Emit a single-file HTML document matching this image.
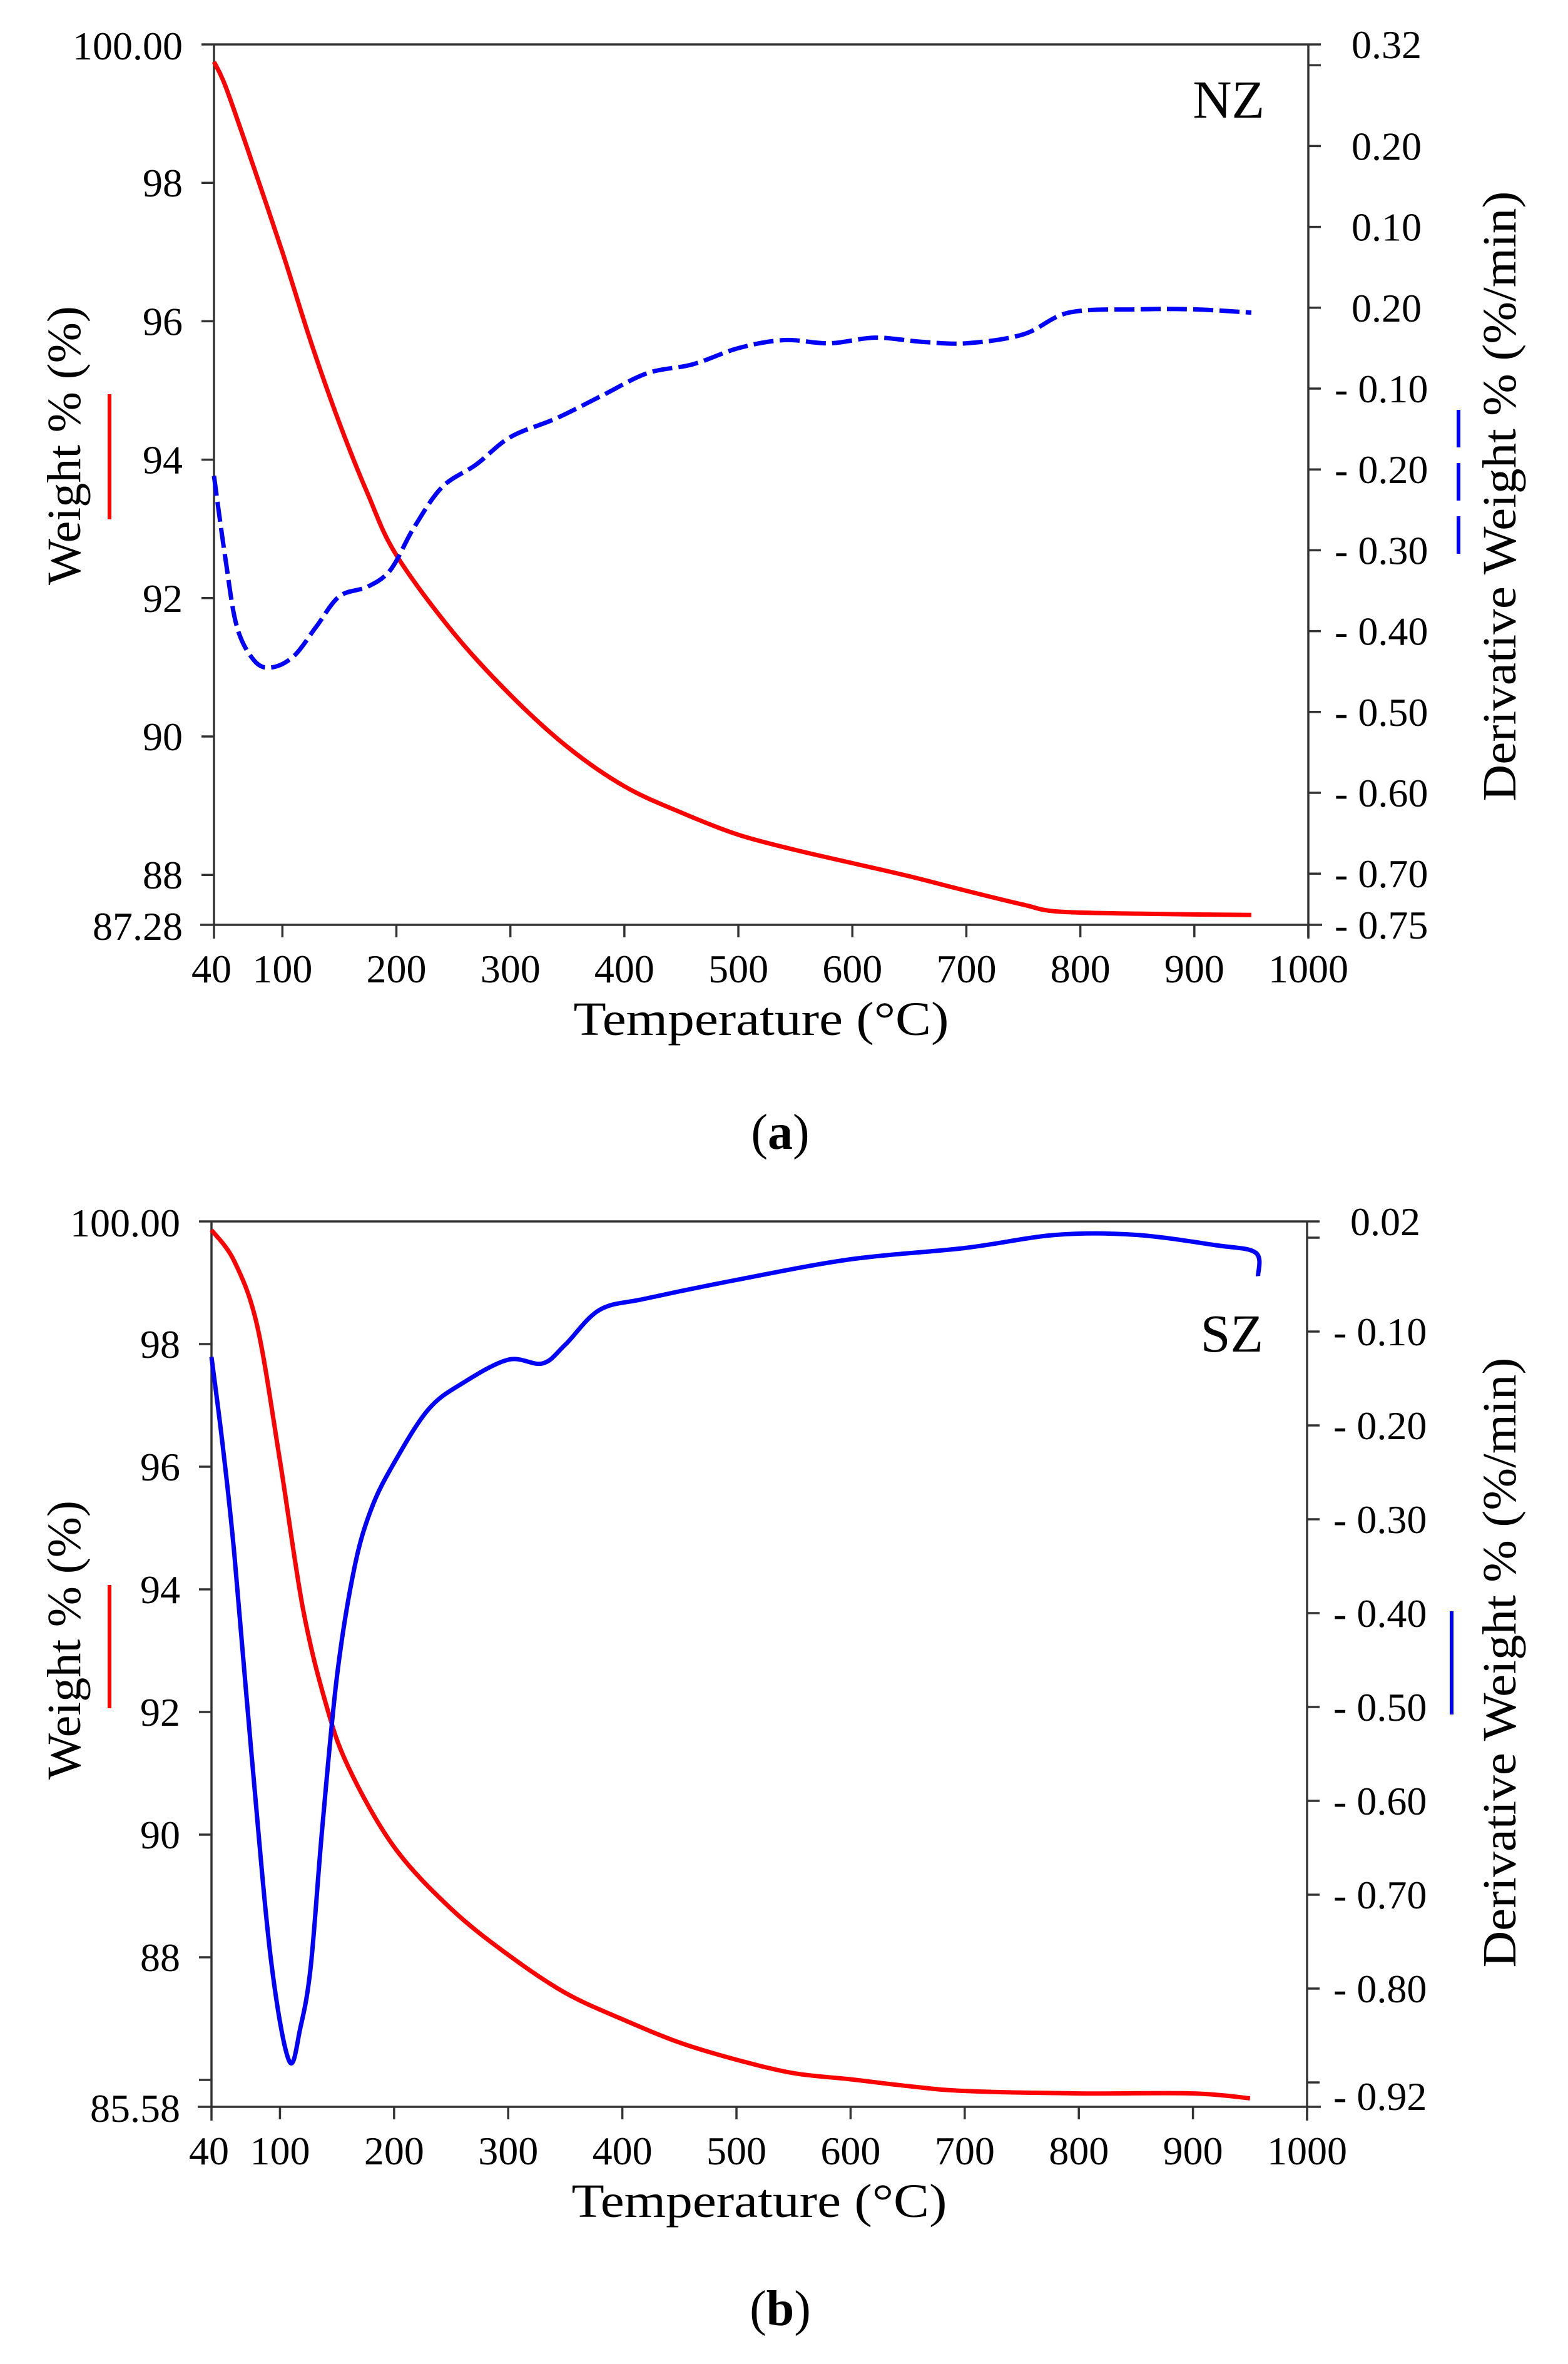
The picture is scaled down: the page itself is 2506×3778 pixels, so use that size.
<!DOCTYPE html>
<html><head><meta charset="utf-8"><style>
html,body{margin:0;padding:0;background:#fff}
svg{display:block}
text{font-family:"Liberation Serif",serif;fill:#000}
</style></head><body>
<svg id="fig" width="2506" height="3778" viewBox="0 0 2506 3778" xmlns="http://www.w3.org/2000/svg"></svg>
<script>
// ---------- Panel (a) NZ data ----------
const aTemps = [40,50,70,100,125,150,175,200,250,300,350,400,450,500,550,600,650,700,750,780,850,950];
const aWeight = [99.75,99.4,98.46,97.0,95.7,94.53,93.5,92.62,91.5,90.6,89.85,89.28,88.9,88.58,88.36,88.17,87.98,87.77,87.57,87.47,87.44,87.42];
const aDTemps = [40,50,60,75,90,110,130,150,175,195,215,240,270,300,340,380,420,460,500,540,580,620,660,700,750,790,850,900,950];
const aDeriv = [-0.208,-0.31,-0.394,-0.436,-0.445,-0.431,-0.394,-0.357,-0.345,-0.324,-0.273,-0.222,-0.194,-0.16,-0.137,-0.109,-0.081,-0.07,-0.05,-0.04,-0.044,-0.037,-0.042,-0.044,-0.033,-0.006,-0.002,-0.002,-0.006];
const aLeftTicks = [98,96,94,92,90,88];
const aRightTickVals = [0.3,0.2,0.1,0,-0.1,-0.2,-0.3,-0.4,-0.5,-0.6,-0.7];
const aRightTickLabels = ["","0.20","0.10","0.20","- 0.10","- 0.20","- 0.30","- 0.40","- 0.50","- 0.60","- 0.70"];
// ---------- Panel (b) SZ data ----------
const bTemps = [40,60,80,100,120,140,160,200,250,300,350,400,450,500,550,600,650,700,800,900,950];
const bWeight = [99.86,99.35,98.3,96.1,93.7,92.15,91.1,89.8,88.79,88.04,87.42,86.99,86.61,86.33,86.11,86.01,85.9,85.82,85.78,85.78,85.7];
const bDTemps = [40,50,60,75,92,108,118,127,137,150,165,180,200,230,260,300,330,350,380,420,500,600,700,780,850,920,955,957];
const bDeriv = [-0.127,-0.223,-0.337,-0.549,-0.768,-0.877,-0.841,-0.776,-0.63,-0.467,-0.353,-0.289,-0.24,-0.183,-0.155,-0.13,-0.134,-0.114,-0.077,-0.065,-0.045,-0.023,-0.011,0.003,0.003,-0.008,-0.016,-0.041];
const bLeftTicks = [98,96,94,92,90,88];
const bRightTickVals = [0,-0.1,-0.2,-0.3,-0.4,-0.5,-0.6,-0.7,-0.8,-0.9];
const bRightTickLabels = ["","- 0.10","- 0.20","- 0.30","- 0.40","- 0.50","- 0.60","- 0.70","- 0.80",""];
const xTicks = [100,200,300,400,500,600,700,800,900,1000];

const NS="http://www.w3.org/2000/svg";
const svg=document.getElementById('fig');
function mk(tag,attrs,parent){const e=document.createElementNS(NS,tag);for(const k in attrs)e.setAttribute(k,attrs[k]);(parent||svg).appendChild(e);return e;}
function txt(s,attrs,parent){const e=mk('text',attrs,parent);e.textContent=s;return e;}
function smooth(pts){
  let d='M'+pts[0][0].toFixed(1)+' '+pts[0][1].toFixed(1);
  for(let i=0;i<pts.length-1;i++){
    const p0=pts[Math.max(0,i-1)],p1=pts[i],p2=pts[i+1],p3=pts[Math.min(pts.length-1,i+2)];
    const c1=[p1[0]+(p2[0]-p0[0])/6,p1[1]+(p2[1]-p0[1])/6];
    const c2=[p2[0]-(p3[0]-p1[0])/6,p2[1]-(p3[1]-p1[1])/6];
    d+=` C${c1[0].toFixed(1)} ${c1[1].toFixed(1)} ${c2[0].toFixed(1)} ${c2[1].toFixed(1)} ${p2[0].toFixed(1)} ${p2[1].toFixed(1)}`;
  }
  return d;
}

function panel(c){
  const g=mk('g',{});
  
  
  const X=t=>c.L+(t-40)*(c.R-c.L)/960;
  const Y=w=>c.T+(100-w)*c.wpx;
  const D=v=>c.d0y-(v-(-0.1))*c.dpx;
  const ax=mk('path',{d:`M${c.L-20} ${c.T}H${c.R+20}M${c.L} ${c.T}V${c.B+22}M${c.L-22} ${c.B}H${c.R+22}M${c.R} ${c.T}V${c.B+22}`,stroke:'#333','stroke-width':3.5,fill:'none'},g);
  
  
  c.lt.forEach(v=>{
    const y=Y(v);
    const t=mk('line',{x1:c.L-20,x2:c.L,y1:y,y2:y,stroke:'#333','stroke-width':3.5},g);
    
    
    const l=txt(String(v),{x:c.L-50,y:y+22,'font-size':64,'text-anchor':'end'},g);
    
    
  });
  if(c.extraTick){
    const y=Y(c.extraTick);
    const t=mk('line',{x1:c.L-20,x2:c.L,y1:y,y2:y,stroke:'#333','stroke-width':3.5},g);
    
    
  }
  let l1=txt('100.00',{x:c.L-50,y:c.T+24,'font-size':64,'text-anchor':'end'},g);
  
  
  let l2=txt(c.minLabel,{x:c.L-50,y:c.B+24,'font-size':64,'text-anchor':'end'},g);
  
  
  c.rv.forEach((v,i)=>{
    const y=D(v);
    const t=mk('line',{x1:c.R,x2:c.R+20,y1:y,y2:y,stroke:'#333','stroke-width':3.5},g);
    
    
    const s=c.rl[i];
    if(s){
      const l=txt(s,{x:s[0]==='-'?c.R+42:c.R+69,y:y+22,'font-size':64},g);
      
      
    }
  });
  let r1=txt(c.rTop,{x:c.R+69,y:c.T+22,'font-size':64},g);
  
  
  let r2=txt(c.rBot,{x:c.R+42,y:c.rBotY,'font-size':64},g);
  
  
  xTicks.forEach(t=>{
    const x=X(t);
    const tk=mk('line',{x1:x,x2:x,y1:c.B,y2:c.B+20,stroke:'#333','stroke-width':3.5},g);
    
    
    const l=txt(String(t),{x:x,y:c.B+92,'font-size':64,'text-anchor':'middle'},g);
    
    
  });
  let l40=txt('40',{x:c.L-4,y:c.B+92,'font-size':64,'text-anchor':'middle'},g);
  
  
  let xt=txt('Temperature (°C)',{x:(c.L+c.R)/2,y:c.B+176,'font-size':76,'text-anchor':'middle',textLength:600,lengthAdjust:'spacingAndGlyphs'},g);
  
  
  let yt=txt('Weight % (%)',{x:0,y:0,'font-size':76,'text-anchor':'middle',textLength:446,lengthAdjust:'spacingAndGlyphs',transform:`translate(128 ${c.lty}) rotate(-90)`},g);
  
  
  let rt=txt('Derivative Weight % (%/min)',{x:0,y:0,'font-size':76,'text-anchor':'middle',textLength:975,lengthAdjust:'spacingAndGlyphs',transform:`translate(2422 ${c.rty}) rotate(-90)`},g);
  
  
  let lg1=mk('line',{x1:175,x2:175,y1:c.leg1[0],y2:c.leg1[1],stroke:'#f00','stroke-width':6},g);
  
  
  let lg2=mk('line',{x1:c.leg2x,x2:c.leg2x,y1:c.leg2[0],y2:c.leg2[1],stroke:'#00f','stroke-width':6,'stroke-dasharray':c.dash?'60 25':'none'},g);
  
  
  let sl=txt(c.sample,{x:c.R-70,y:c.sy,'font-size':86,'text-anchor':'end'},g);
  
  
  let cap=mk('text',{x:1247,y:c.capy,'font-size':80,'text-anchor':'middle'},g);
  
  
  cap.appendChild(document.createTextNode('('));
  const bt=mk('tspan',{'font-weight':'bold'},cap);bt.textContent=c.cap;
  cap.appendChild(document.createTextNode(')'));
  const wp=c.wt.map((t,i)=>[X(t),Y(c.wv[i])]);
  let ws=mk('path',{d:smooth(wp),fill:'none',stroke:'#f00','stroke-width':7,'stroke-linejoin':'round'},g);
  
  
  const dp=c.dt.map((t,i)=>[X(t),D(c.dv[i])]);
  let ds=mk('path',{d:smooth(dp),fill:'none',stroke:'#00f','stroke-width':7,'stroke-linejoin':'round','stroke-dasharray':c.dash?'32 10':'none'},g);
  
  
}

panel({name:'panel-a-nz',L:342,R:2091,T:71,B:1478,wpx:110.6,d0y:621,dpx:1292,
  lt:aLeftTicks,minLabel:'87.28',rv:aRightTickVals,rl:aRightTickLabels,rTop:'0.32',rBot:'- 0.75',rBotY:1500,
  wt:aTemps,wv:aWeight,dt:aDTemps,dv:aDeriv,dash:true,lty:712,rty:793,leg1:[630,830],leg2x:2331,leg2:[655,894],
  sample:'NZ',sy:188,cap:'a',capy:1836});
panel({name:'panel-b-sz',L:338,R:2089,T:1952,B:3367,wpx:98,d0y:2128,dpx:1500,extraTick:86,
  lt:bLeftTicks,minLabel:'85.58',rv:bRightTickVals,rl:bRightTickLabels,rTop:'0.02',rBot:'- 0.92',rBotY:3372,
  wt:bTemps,wv:bWeight,dt:bDTemps,dv:bDeriv,dash:false,lty:2621,rty:2657,leg1:[2533,2730],leg2x:2320,leg2:[2575,2740],
  sample:'SZ',sy:2160,cap:'b',capy:3716});
</script>
</body></html>
